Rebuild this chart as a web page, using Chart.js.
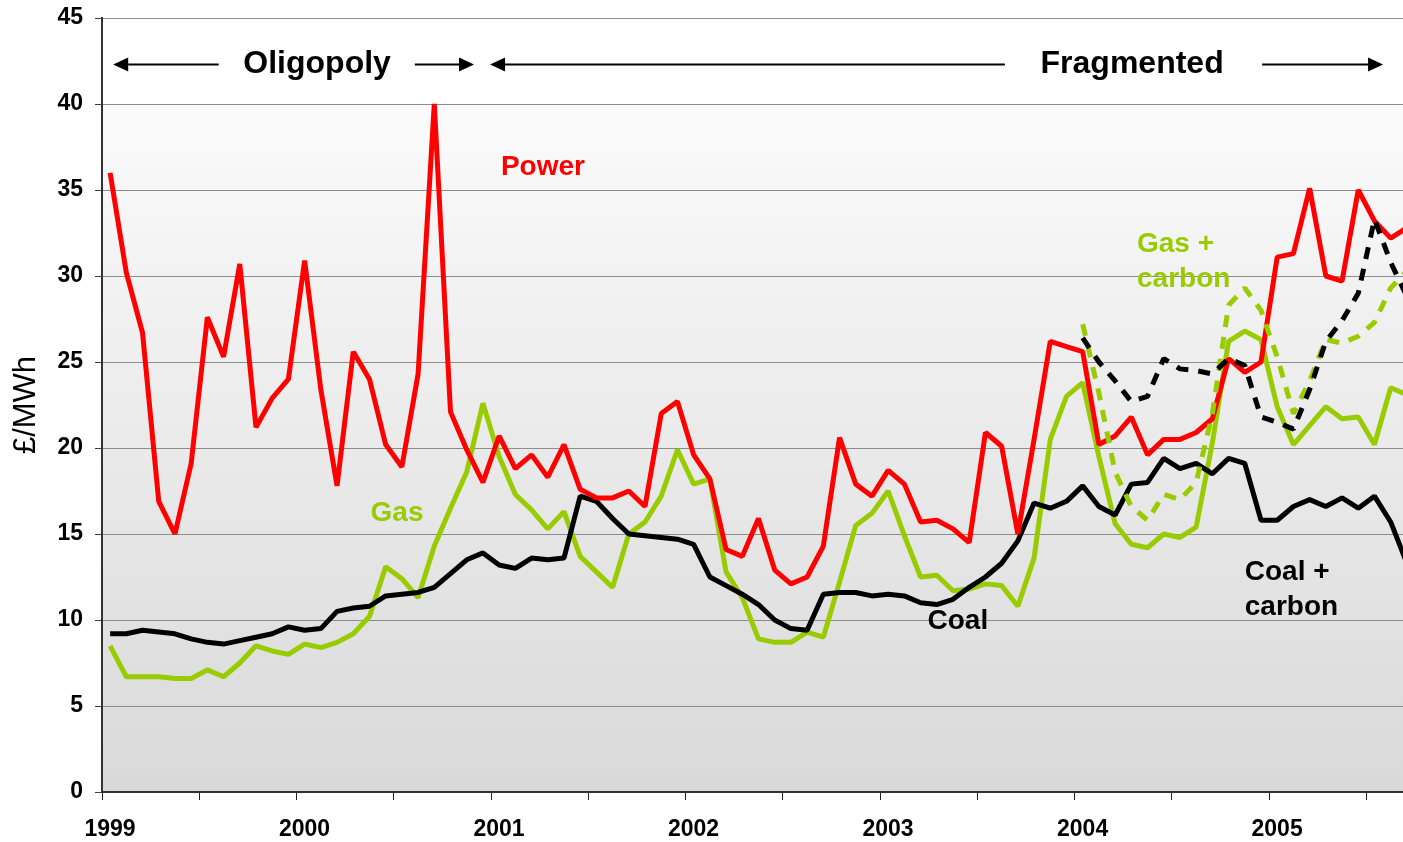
<!DOCTYPE html>
<html lang="en">
<head>
  <meta charset="UTF-8">
  <title>Power, gas and coal prices</title>
  <style>
    html, body {
      margin: 0;
      padding: 0;
      background: #fff;
      overflow: hidden;
    }
    #chart {
      display: block;
    }
  </style>
</head>
<body>
  <canvas id="chart" width="1403" height="842"></canvas>

  <script src="https://cdn.jsdelivr.net/npm/chart.js"></script>
  <script>
    // monthly values, Jan 1999 onwards (one entry per month)
    const years = ['1999', '2000', '2001', '2002', '2003', '2004', '2005'];

    const power = [
      36.0, 30.2, 26.7, 16.9, 15.0, 19.1, 27.6, 25.3, 30.7, 21.2, 22.9, 24.0,
      30.9, 23.4, 17.8, 25.6, 24.0, 20.2, 18.9, 24.3, 40.0, 22.1, 19.9, 18.0,
      20.7, 18.8, 19.6, 18.3, 20.2, 17.6, 17.1, 17.1, 17.5, 16.6, 22.0, 22.7,
      19.6, 18.2, 14.1, 13.7, 15.9, 12.9, 12.1, 12.5, 14.3, 20.6, 17.9, 17.2,
      18.7, 17.9, 15.7, 15.8, 15.3, 14.5, 20.9, 20.1, 15.0, 20.5, 26.2, 25.9,
      25.6, 20.2, 20.7, 21.8, 19.6, 20.5, 20.5, 20.9, 21.7, 25.2, 24.4, 25.0,
      31.1, 31.3, 35.1, 30.0, 29.7, 35.0, 33.2, 32.2, 32.8
    ];

    const gas = [
      8.5, 6.7, 6.7, 6.7, 6.6, 6.6, 7.1, 6.7, 7.5, 8.5, 8.2, 8.0,
      8.6, 8.4, 8.7, 9.2, 10.2, 13.1, 12.4, 11.3, 14.3, 16.5, 18.6, 22.6,
      19.5, 17.3, 16.4, 15.3, 16.3, 13.7, 12.8, 11.9, 15.0, 15.7, 17.2, 19.9,
      17.9, 18.2, 12.8, 11.3, 8.9, 8.7, 8.7, 9.3, 9.0, 12.2, 15.5, 16.2,
      17.5, 14.9, 12.5, 12.6, 11.7, 11.8, 12.1, 12.0, 10.8, 13.6, 20.5, 23.0,
      23.8, 19.5, 15.6, 14.4, 14.2, 15.0, 14.8, 15.4, 20.3, 26.2, 26.8, 26.3,
      22.4, 20.2, 21.3, 22.4, 21.7, 21.8, 20.2, 23.5, 23.1
    ];

    const coal = [
      9.2, 9.2, 9.4, 9.3, 9.2, 8.9, 8.7, 8.6, 8.8, 9.0, 9.2, 9.6,
      9.4, 9.5, 10.5, 10.7, 10.8, 11.4, 11.5, 11.6, 11.9, 12.7, 13.5, 13.9,
      13.2, 13.0, 13.6, 13.5, 13.6, 17.2, 16.9, 15.9, 15.0, 14.9, 14.8, 14.7,
      14.4, 12.5, 12.0, 11.5, 10.9, 10.0, 9.5, 9.4, 11.5, 11.6, 11.6, 11.4,
      11.5, 11.4, 11.0, 10.9, 11.2, 11.9, 12.5, 13.3, 14.6, 16.8, 16.5, 16.9,
      17.8, 16.6, 16.1, 17.9, 18.0, 19.4, 18.8, 19.1, 18.5, 19.4, 19.1, 15.8,
      15.8, 16.6, 17.0, 16.6, 17.1, 16.5, 17.2, 15.7, 13.3
    ];

    // carbon-adjusted series start in Jan 2004 (month 60)
    const carbonStart = 60;
    const gasCarbon = [
      27.2, 23.2, 18.6, 16.6, 15.8, 17.3, 17.0, 18.0, 22.0, 28.3, 29.3, 28.0,
      25.3, 22.0, 23.9, 26.3, 26.1, 26.5, 27.3, 29.3, 30.3
    ];
    const coalCarbon = [
      26.4, 25.0, 23.9, 22.7, 23.0, 25.2, 24.6, 24.5, 24.3, 25.2, 24.8, 21.8,
      21.5, 21.1, 23.4, 26.2, 27.4, 29.0, 33.3, 30.8, 28.8
    ];

    const RED = '#ff0000';
    const GREEN = '#99cc00';
    const BLACK = '#000000';
    const FONT = '"Liberation Sans", Arial, Helvetica, sans-serif';

    // text labels and period arrows, placed in data units (month index, £/MWh)
    const seriesLabels = [
      { lines: ['Power'], x: 26.7, y: 36.3, color: RED, align: 'center' },
      { lines: ['Gas'], x: 17.7, y: 16.2, color: GREEN, align: 'center' },
      { lines: ['Coal'], x: 52.3, y: 9.9, color: BLACK, align: 'center' },
      { lines: ['Gas +', 'carbon'], x: 63.35, y: 31.85, color: GREEN, align: 'left' },
      { lines: ['Coal +', 'carbon'], x: 70.0, y: 12.75, color: BLACK, align: 'left' }
    ];
    const periods = [
      { text: 'Oligopoly', x: 12.77, y: 42.3 },
      { text: 'Fragmented', x: 63.05, y: 42.3 }
    ];
    const arrows = [
      { from: 6.7, to: 0.19, y: 42.3 },
      { from: 18.8, to: 22.45, y: 42.3 },
      { from: 55.2, to: 23.44, y: 42.3 },
      { from: 71.07, to: 78.53, y: 42.3 }
    ];

    function series(values, start) {
      return values.map((v, i) => ({ x: start + i, y: v }));
    }

    const plotBackground = {
      id: 'plotBackground',
      beforeDraw(chart) {
        const { ctx, chartArea: a, scales: { y } } = chart;
        const g = ctx.createLinearGradient(0, a.top, 0, a.bottom);
        g.addColorStop(0, '#ffffff');
        g.addColorStop(1, '#d9d9d9');
        ctx.save();
        ctx.fillStyle = g;
        ctx.fillRect(a.left, a.top, a.right - a.left, a.bottom - a.top);
        // white text box across the top band
        ctx.fillStyle = '#ffffff';
        ctx.fillRect(a.left, a.top, a.right - a.left, y.getPixelForValue(40) - a.top);
        ctx.restore();
      }
    };

    function drawArrow(ctx, x0, x1, yy) {
      const dir = x1 > x0 ? 1 : -1;
      const head = 15;
      ctx.strokeStyle = BLACK;
      ctx.fillStyle = BLACK;
      ctx.lineWidth = 2;
      ctx.beginPath();
      ctx.moveTo(x0, yy);
      ctx.lineTo(x1 - dir * head, yy);
      ctx.stroke();
      ctx.beginPath();
      ctx.moveTo(x1, yy);
      ctx.lineTo(x1 - dir * head, yy - 7);
      ctx.lineTo(x1 - dir * head, yy + 7);
      ctx.closePath();
      ctx.fill();
    }

    const notes = {
      id: 'notes',
      afterDatasetsDraw(chart) {
        const { ctx, scales: { x, y } } = chart;
        ctx.save();
        arrows.forEach(a => drawArrow(ctx, x.getPixelForValue(a.from), x.getPixelForValue(a.to), y.getPixelForValue(a.y)));

        ctx.textBaseline = 'middle';
        ctx.font = 'bold 32px ' + FONT;
        ctx.fillStyle = BLACK;
        ctx.textAlign = 'center';
        periods.forEach(p => ctx.fillText(p.text, x.getPixelForValue(p.x), y.getPixelForValue(p.y)));

        ctx.font = 'bold 28px ' + FONT;
        seriesLabels.forEach(l => {
          ctx.fillStyle = l.color;
          ctx.textAlign = l.align;
          const px = x.getPixelForValue(l.x);
          const py = y.getPixelForValue(l.y);
          l.lines.forEach((t, i) => ctx.fillText(t, px, py + i * 35));
        });
        ctx.restore();
      }
    };

    const lineStyle = { borderWidth: 5, pointRadius: 0, tension: 0, fill: false, borderJoinStyle: 'bevel', borderCapStyle: 'butt' };

    new Chart(document.getElementById('chart'), {
      type: 'line',
      data: {
        datasets: [
          { label: 'Coal + carbon', data: series(coalCarbon, carbonStart), borderColor: BLACK, borderDash: [12, 10], ...lineStyle },
          { label: 'Gas + carbon', data: series(gasCarbon, carbonStart), borderColor: GREEN, borderDash: [12, 10], ...lineStyle },
          { label: 'Power', data: series(power, 0), borderColor: RED, ...lineStyle },
          { label: 'Coal', data: series(coal, 0), borderColor: BLACK, ...lineStyle },
          { label: 'Gas', data: series(gas, 0), borderColor: GREEN, ...lineStyle }
        ]
      },
      options: {
        responsive: false,
        animation: false,
        events: [],
        layout: { padding: { top: 18, right: 0, bottom: 0, left: 0 } },
        plugins: {
          legend: { display: false },
          tooltip: { enabled: false }
        },
        scales: {
          x: {
            type: 'linear',
            min: -0.5,
            max: 79.76,
            afterBuildTicks: scale => {
              const t = [];
              for (let v = -0.5; v <= 79.5; v += 6) t.push({ value: v });
              scale.ticks = t;
            },
            afterFit: scale => {
              scale.height = 50;
              scale.paddingLeft = 0;
              scale.paddingRight = 0;
            },
            grid: { drawOnChartArea: false, drawTicks: true, tickLength: 8, color: '#222', lineWidth: 1 },
            border: { color: '#333', width: 2 },
            ticks: {
              autoSkip: false,
              maxRotation: 0,
              padding: 16,
              labelOffset: 8,
              color: BLACK,
              font: { family: FONT, size: 23, weight: 'bold' },
              callback: v => {
                const m = Math.round(v + 0.5);
                return m % 12 === 0 ? years[m / 12] : '';
              }
            }
          },
          y: {
            min: 0,
            max: 45,
            afterFit: scale => {
              scale.width = 102;
              scale.paddingTop = 0;
              scale.paddingBottom = 0;
            },
            ticks: {
              stepSize: 5,
              padding: 12,
              color: BLACK,
              font: { family: FONT, size: 23, weight: 'bold' }
            },
            grid: { color: '#8c8c8c', lineWidth: 1, tickLength: 7, tickColor: '#404040' },
            border: { color: '#333', width: 2 },
            title: {
              display: true,
              text: '£/MWh',
              color: BLACK,
              font: { family: FONT, size: 31, weight: 'normal' },
              padding: { top: 8, bottom: 0 }
            }
          }
        }
      },
      plugins: [plotBackground, notes]
    });
  </script>
</body>
</html>
